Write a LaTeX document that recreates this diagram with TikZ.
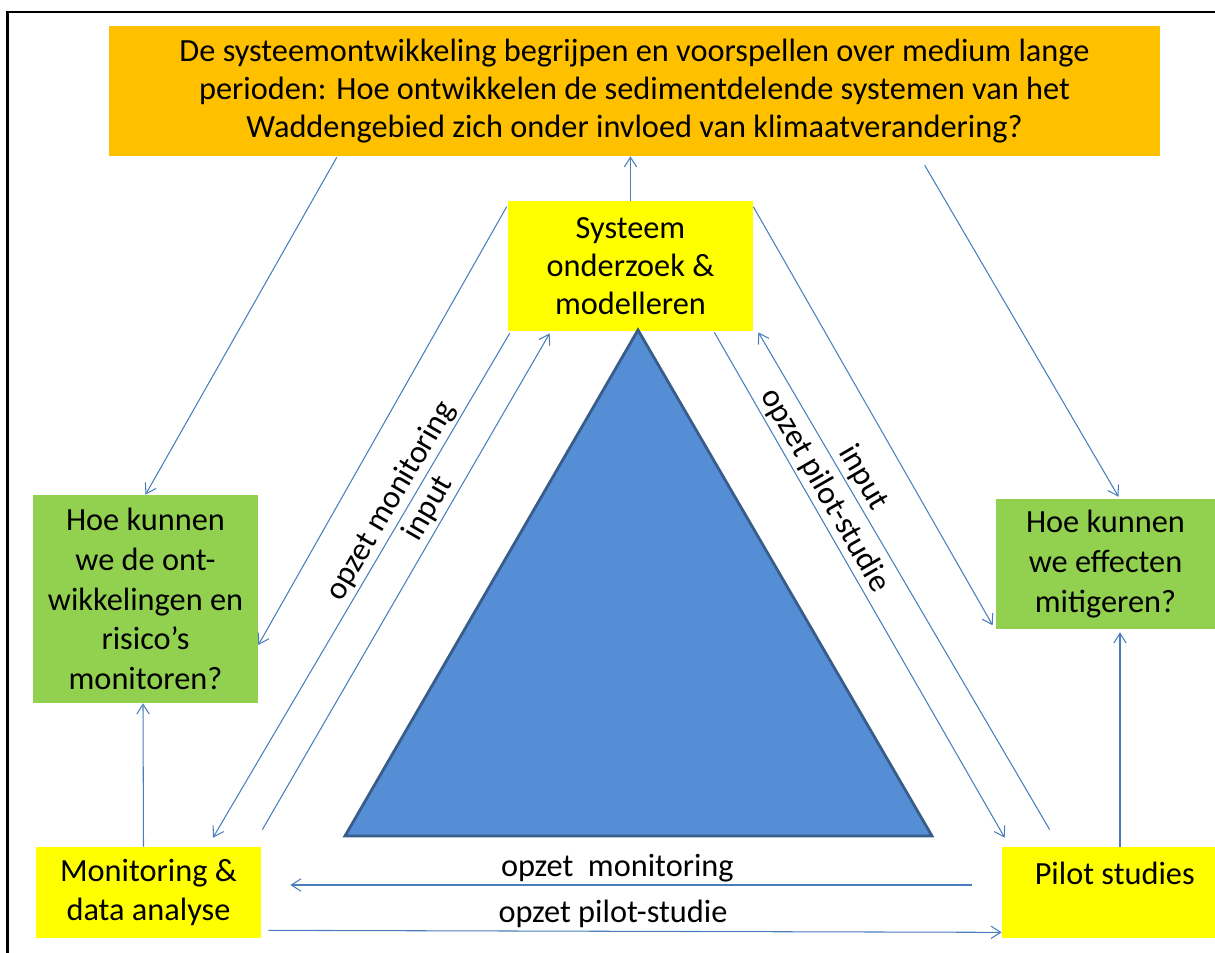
\documentclass[tikz,border=0pt]{standalone}
\usepackage{fontspec}
\setmainfont{Carlito}
\usepackage{tikz}
\usetikzlibrary{arrows.meta, calc}
\definecolor{vraagoranje}{HTML}{FFC000}
\definecolor{kerngeel}{HTML}{FFFF00}
\definecolor{doelgroen}{HTML}{92D050}
\definecolor{pijlblauw}{HTML}{4A7EBB}
\definecolor{driehoekblauw}{HTML}{558ED5}
\definecolor{driehoekrand}{HTML}{385D8A}

\begin{document}
\begin{tikzpicture}[x=0.02cm, y=-0.02cm,
    base/.style={inner sep=0pt, align=center,
      font=\fontsize{18.4}{21.6}\selectfont},
    hoofdvraag/.style={base, fill=vraagoranje,
      minimum width=21.02cm, minimum height=2.6cm},
    kern/.style={base, fill=kerngeel},
    deelvraag/.style={base, fill=doelgroen,
      font=\fontsize{18.4}{22.7}\selectfont},
    driehoek/.style={fill=driehoekblauw, draw=driehoekrand,
      line width=1.6pt},
    arrow/.style={-{Straight Barb[length=5.5pt, width=7pt]},
      color=pijlblauw, line width=0.6pt},
    edgelabel/.style={font=\fontsize{18.4}{21.6}\selectfont,
      text=black, inner sep=1.5pt},
]
\useasboundingbox (0,0) rectangle (1215,953);
% Frame
\draw[line width=1.2pt] (7.5,953) -- (7.5,12) -- (1215,12);

% Nodes
\node[hoofdvraag] (vraag) at (634.5, 91)
    {De systeemontwikkeling begrijpen en voorspellen over medium lange\\
     perioden: Hoe ontwikkelen de sedimentdelende systemen van het\\
     Waddengebied zich onder invloed van klimaatverandering?};
\node[kern, minimum width=4.9cm, minimum height=2.6cm] (systeem) at (630.5, 266)
    {Systeem\\onderzoek \&\\modelleren};
\node[deelvraag, minimum width=4.5cm, minimum height=4.16cm] (monvraag) at (145.5, 599)
    {Hoe kunnen\\we de ont-\\wikkelingen en\\risico’s\\monitoren?};
\node[deelvraag, minimum width=4.38cm, minimum height=2.6cm] (mitvraag) at (1105.5, 564)
    {Hoe kunnen\\we effecten\\mitigeren?};
\node[kern, minimum width=4.5cm, minimum height=1.82cm,
      font=\fontsize{18.4}{22}\selectfont] (monitoring) at (148.5, 892.5)
    {Monitoring \&\\data analyse};
\node[kern, minimum width=4.26cm, minimum height=1.82cm,
      font=\fontsize{18.4}{22}\selectfont] (pilot) at (1108.5, 892.5)
    {\hspace*{0.25cm}Pilot studies\\ \mbox{}};

% Triangle
\draw[driehoek] (638,330) -- (932,836) -- (345,836) -- cycle;

% Arrows
\draw[arrow] ($(vraag.south west)+(228,1)$) -- (monvraag.north);
\draw[arrow] ($(vraag.south west)+(816,9)$) -- ($(mitvraag.north)+(13,-2)$);
\draw[arrow] (systeem.north) -- (systeem.north |- vraag.south);
\draw[arrow] ($(systeem.north west)+(-1,6)$) -- ($(monvraag.east)+(0,46)$);
\draw[arrow] ($(systeem.north east)+(0,6)$) -- ($(mitvraag.south west)+(-3,-4)$);
\draw[arrow] ($(systeem.south west)+(2,2)$)
    -- node[edgelabel, pos=0.35, sloped, above] {opzet monitoring}
    ($(monitoring.north)+(64.5,-9)$);
\draw[arrow] ($(monitoring.north east)+(1,-17)$)
    -- node[edgelabel, pos=0.63, sloped, above] {input}
    ($(systeem.south west)+(42,2)$);
\draw[arrow] ($(systeem.south east)+(-39,1)$)
    -- node[edgelabel, pos=0.33, sloped, above] {opzet pilot-studie}
    ($(pilot.north west)+(3,-9)$);
\draw[arrow] ($(pilot.north west)+(48,-17)$)
    -- node[edgelabel, pos=0.69, sloped, above] {input}
    ($(systeem.south east)+(5,1)$);
\draw[arrow] ($(monitoring.north)+(-5,0)$) -- ($(monvraag.south)+(-2.5,0)$);
\draw[arrow] ($(pilot.north)+(11.5,0)$) -- ($(mitvraag.south)+(14.5,3)$);
\draw[arrow] ($(pilot.west)+(-30,-7.5)$)
    -- node[edgelabel, pos=0.52, above] {opzet\ \ monitoring}
    ($(monitoring.east)+(29,-7.5)$);
\draw[arrow] ($(monitoring.south east)+(7,-8)$)
    -- node[edgelabel, pos=0.47, above] {opzet pilot-studie}
    ($(pilot.south west)+(0,-6)$);
\end{tikzpicture}
\end{document}
